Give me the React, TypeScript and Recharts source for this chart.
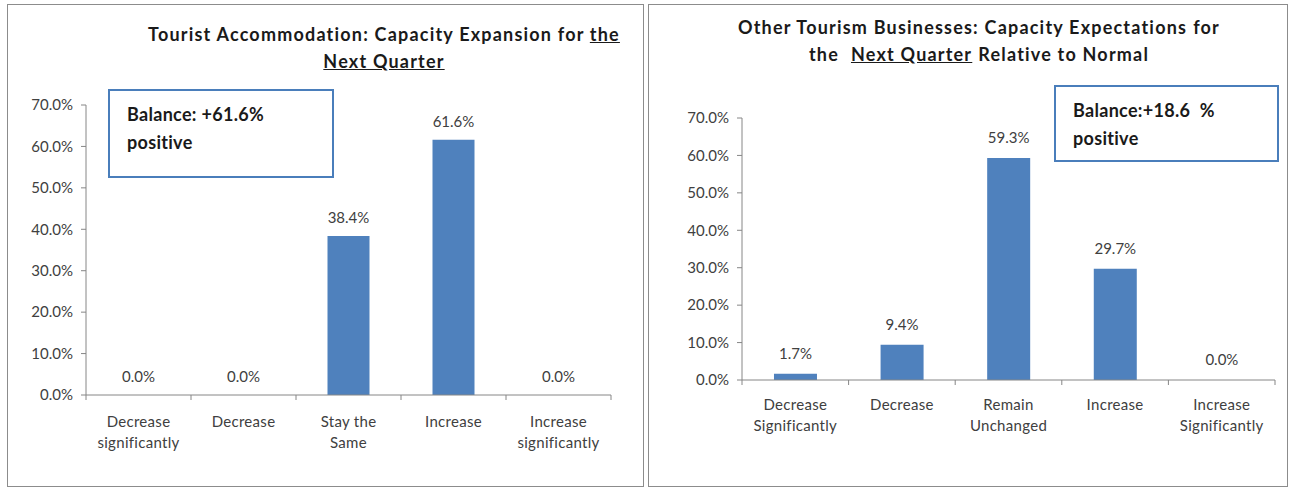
import React from "react";
import { BarChart, Bar, XAxis, YAxis, LabelList } from "recharts";

// values (percent of respondents)
const LEFT_CATEGORIES = ["Decrease\nsignificantly", "Decrease", "Stay the\nSame", "Increase", "Increase\nsignificantly"];
const LEFT_VALUES = [0, 0, 38.4, 61.6, 0];

const RIGHT_CATEGORIES = ["Decrease\nSignificantly", "Decrease", "Remain\nUnchanged", "Increase", "Increase\nSignificantly"];
const RIGHT_VALUES = [1.7, 9.4, 59.3, 29.7, 0];

const Y_TICKS = [0, 10, 20, 30, 40, 50, 60, 70];

const FONT = "Lato, 'Open Sans', sans-serif";
const BAR_COLOR = "#4F81BD";
const AXIS_COLOR = "#868686";
const TEXT_COLOR = "#404040";

const pct = (v: number) => `${Number(v).toFixed(1)}%`;

function makeTick(band: number, count: number, firstLine: number) {
  return function CategoryTick(props: any) {
    const { x, y, payload, index } = props;
    const lines = String(payload.value).split("\n");
    return (
      <g>
        <line x1={x - band / 2} x2={x - band / 2} y1={y} y2={y + 5} stroke={AXIS_COLOR} />
        {index === count - 1 && (
          <line x1={x + band / 2} x2={x + band / 2} y1={y} y2={y + 5} stroke={AXIS_COLOR} />
        )}
        <text
          x={x}
          y={y + firstLine}
          textAnchor="middle"
          fontSize={15}
          letterSpacing={0.3}
          fill={TEXT_COLOR}
          fontFamily={FONT}
        >
          {lines.map((l, i) => (
            <tspan key={i} x={x} dy={i === 0 ? 0 : 21}>
              {l}
            </tspan>
          ))}
        </text>
      </g>
    );
  };
}

interface PanelProps {
  left: number;
  top: number;
  width: number;
  height: number;
  margin: { top: number; right: number; bottom: number; left: number };
  categories: string[];
  values: number[];
  title: React.ReactNode;
  titleTop: number;
  titleCenter: number;
  tickFirstLine: number;
  labelOffset: number;
  box: { left: number; top: number; width: number; height: number };
  boxText: string;
}

function Panel(p: PanelProps) {
  const data = p.categories.map((c, i) => ({ name: c, value: p.values[i] }));
  const chartW = p.width - 2;
  const chartH = p.height - 2;
  const plotWidth = chartW - p.margin.left - p.margin.right - 60;
  const band = plotWidth / p.categories.length;
  return (
    <div
      style={{
        position: "absolute",
        left: p.left,
        top: p.top,
        width: p.width,
        height: p.height,
        border: "1px solid #8c8c8c",
        boxSizing: "border-box",
        background: "#fff",
        fontFamily: FONT,
      }}
    >
      <div
        style={{
          position: "absolute",
          left: p.titleCenter - 320,
          width: 640,
          top: p.titleTop,
          textAlign: "center",
          fontWeight: 700,
          fontSize: 18,
          letterSpacing: 1.2,
          lineHeight: "27px",
          color: "#1a1a1a",
        }}
      >
        {p.title}
      </div>
      <BarChart width={chartW} height={chartH} data={data} margin={p.margin} barCategoryGap="30%">
        <XAxis
          dataKey="name"
          interval={0}
          tickLine={false}
          tickSize={0}
          tickMargin={0}
          stroke={AXIS_COLOR}
          height={60}
          tick={makeTick(band, p.categories.length, p.tickFirstLine)}
        />
        <YAxis
          domain={[0, 70]}
          ticks={Y_TICKS}
          tickFormatter={pct}
          width={60}
          tickSize={5}
          tickMargin={8}
          stroke={AXIS_COLOR}
          tick={{ fill: TEXT_COLOR, fontSize: 15, fontFamily: FONT }}
        />
        <Bar dataKey="value" fill={BAR_COLOR} minPointSize={0.01} isAnimationActive={false}>
          <LabelList
            dataKey="value"
            position="top"
            offset={p.labelOffset}
            formatter={(v: any) => pct(v)}
            style={{ fill: TEXT_COLOR, fontSize: 15, fontFamily: FONT }}
          />
        </Bar>
      </BarChart>
      <div
        style={{
          position: "absolute",
          left: p.box.left,
          top: p.box.top,
          width: p.box.width,
          height: p.box.height,
          border: "2px solid #4A7EBB",
          boxSizing: "border-box",
          background: "#fff",
          padding: "9px 0 0 17px",
          fontWeight: 700,
          fontSize: 18,
          letterSpacing: 0.3,
          lineHeight: "28px",
          color: "#1a1a1a",
          whiteSpace: "pre",
        }}
      >
        {p.boxText}
      </div>
    </div>
  );
}

export default function App() {
  return (
    <div style={{ position: "absolute", left: 0, top: 0, width: 1292, height: 489, background: "#fff" }}>
      <Panel
        left={7}
        top={4}
        width={637}
        height={483}
        margin={{ top: 100, right: 32, bottom: 31, left: 18 }}
        categories={LEFT_CATEGORIES}
        values={LEFT_VALUES}
        titleTop={16}
        titleCenter={376}
        tickFirstLine={32}
        labelOffset={13}
        title={
          <>
            <span>Tourist Accommodation: Capacity Expansion for </span>
            <u>the</u>
            <br />
            <u>Next Quarter</u>
          </>
        }
        box={{ left: 100, top: 84, width: 226, height: 89 }}
        boxText={"Balance: +61.6%\npositive"}
      />
      <Panel
        left={648}
        top={4}
        width={640}
        height={483}
        margin={{ top: 113, right: 12, bottom: 46, left: 33 }}
        categories={RIGHT_CATEGORIES}
        values={RIGHT_VALUES}
        titleTop={9}
        titleCenter={330}
        tickFirstLine={30}
        labelOffset={15}
        title={
          <>
            <span style={{ marginRight: 6 }}>Other Tourism Businesses: Capacity Expectations</span>
            <span>for</span>
            <br />
            <span style={{ marginRight: 12 }}>the</span>
            <u style={{ marginRight: 6 }}>Next Quarter</u>
            <span>Relative to Normal</span>
          </>
        }
        box={{ left: 405, top: 80, width: 225, height: 77 }}
        boxText={"Balance:+18.6  %\npositive"}
      />
    </div>
  );
}
